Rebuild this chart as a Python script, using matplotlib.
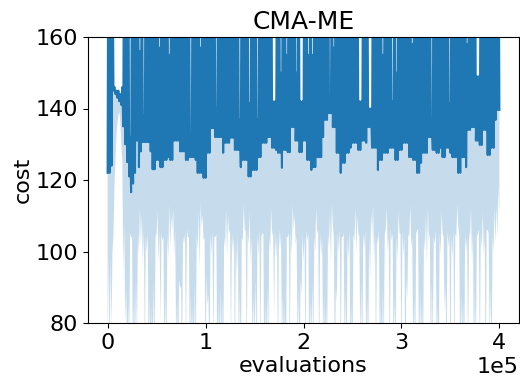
import numpy as np
import matplotlib
matplotlib.use("Agg")
import matplotlib.pyplot as plt

# cost logged every 1000 evaluations; the log alternates between the
# running trough of the mean and the spike that follows it
EVALS = np.arange(0, 400001, 1000)

TROUGH_COST = [
    122, 122, 124, 145, 144, 143, 142, 141, 135, 130,
    125, 121, 116.6, 119, 122, 131, 123.6, 128, 130.6, 130.6,
    130.6, 130.6, 128, 123, 123, 125.6, 125.6, 123.6, 123.6, 125.6,
    125.6, 126.4, 125.6, 125.6, 131, 131, 131, 128, 128, 128,
    125.6, 125.6, 126.4, 126.4, 126.4, 125.6, 122, 122, 122, 120.6,
    120.6, 127.6, 127.6, 134.5, 134.5, 132, 132, 132, 132, 127.6,
    130.4, 130.4, 130.4, 131.8, 131.8, 128.4, 128.4, 128.4, 123.6, 125.6,
    125.6, 125.6, 121, 121, 122.8, 122.8, 122.8, 126.4, 126.4, 130.4,
    130.4, 130.4, 132, 132, 129, 129, 128.4, 127.6, 127.6, 123.4,
    128.4, 128.4, 127.8, 127.8, 134.8, 134.8, 131, 131, 127.8, 127.8,
    131, 131, 125.6, 125.6, 122.8, 123.6, 123.6, 126.4, 126.4, 126.4,
    132, 136.8, 136.8, 138.7, 138.7, 134.8, 134.8, 127.6, 127.6, 122,
    124.8, 124.8, 127.6, 127.6, 129, 130.4, 130.4, 130.4, 128.4, 128.4,
    131, 131, 130.4, 134.8, 134.8, 129, 129, 129, 122.8, 125.6,
    125.6, 127.6, 127.6, 127.6, 129, 129, 129, 125.6, 125.6, 128.4,
    128.4, 130.4, 130.4, 130.4, 126.4, 126.4, 125.6, 125.6, 122, 122,
    124.8, 127.6, 127.6, 127.6, 132, 132, 128.4, 128.4, 127.6, 127.6,
    129, 126.4, 126.4, 129, 129, 127.6, 126.4, 126.4, 126.4, 122,
    122, 126.4, 126.4, 123.6, 134, 134, 134.8, 134.8, 131, 131,
    129.8, 129.8, 134, 134, 127, 127, 129, 129, 136.8, 139.6,
    139.6,
]

PEAK_COST = [
    220, 205, 190, 146, 145, 145, 144, 146, 210, 198,
    215, 132, 204, 225, 196, 210, 156, 200, 138, 212,
    195, 230, 205, 188, 215, 200, 157, 220, 199, 207,
    192, 155, 218, 203, 196, 225, 208, 190, 214, 201,
    209, 197, 133, 216, 204, 193, 221, 157, 206, 198,
    212, 190, 224, 203, 195, 140, 217, 206, 199, 228,
    194, 211, 202, 187, 219, 205, 196, 137, 213, 200,
    222, 191, 141.5, 208, 197, 215, 137, 203, 226, 194,
    210, 199, 218, 205, 142, 142, 193, 214, 150, 207,
    198, 155, 221, 203, 192, 216, 150, 209, 142, 142,
    224, 195, 155, 211, 155, 200, 190, 219, 206, 197,
    213, 202, 227, 142, 196, 157, 210, 199, 221, 193,
    207, 216, 195, 204, 223, 200, 191, 212, 142, 142,
    205, 218, 197, 140, 140, 209, 194, 225, 203, 212,
    155, 199, 208, 217, 192, 142, 205, 150, 220, 196,
    211, 203, 194, 226, 208, 158, 197, 214, 201, 190,
    219, 206, 195, 213, 202, 137, 222, 198, 209, 193,
    216, 204, 191, 227, 141.5, 200, 212, 196, 207, 218,
    194, 205, 215, 158, 199, 223, 192, 210, 149, 149,
    203, 217, 196, 208, 225, 190, 211, 201, 214, 206,
]

# lower edge of the shaded band at the same log points
TROUGH_LOW = [
    70, 65, 78, 105, 125, 136, 139, 130, 95, 80,
    66, 70, 104, 63, 68, 75, 99, 102, 96, 71,
    100, 64, 67, 62, 73, 105, 97, 80, 103, 69,
    65, 98, 101, 106, 99, 74, 61, 90, 68, 102,
    72, 104, 66, 69, 64, 70, 100, 95, 107, 103,
    67, 85, 63, 99, 72, 104, 68, 62, 71, 66,
    101, 98, 105, 74, 100, 65, 93, 70, 61, 103,
    106, 69, 102, 97, 64, 76, 68, 99, 72, 105,
    63, 67, 70, 100, 104, 82, 98, 65, 101, 73,
    66, 62, 104, 69, 99, 106, 102, 71, 64, 88,
    97, 68, 103, 61, 74, 70, 100, 105, 66, 99,
    72, 64, 69, 101, 96, 107, 63, 86, 100, 67,
    104, 71, 65, 98, 62, 68, 103, 99, 105, 74,
    66, 101, 70, 63, 92, 104, 97, 69, 102, 65,
    61, 73, 106, 100, 68, 103, 64, 71, 98, 105,
    67, 99, 62, 87, 104, 101, 70, 66, 106, 63,
    72, 69, 100, 96, 103, 65, 74, 102, 68, 61,
    99, 105, 84, 67, 101, 63, 98, 70, 104, 107,
    66, 72, 62, 100, 69, 103, 97, 64, 71, 105,
    68, 101, 99, 63, 106, 74, 66, 100, 102, 104,
    110,
]

PEAK_LOW = [
    100, 98, 100, 118, 132, 138, 136, 125, 108, 90,
    86, 105, 104, 88, 92, 105, 112, 110, 106, 104,
    105, 87, 85, 91, 104, 111, 106, 105, 104, 89,
    105, 113, 110, 112, 106, 86, 92, 90, 104, 105,
    106, 104, 88, 85, 91, 105, 111, 113, 110, 104,
    93, 88, 105, 106, 104, 105, 86, 90, 87, 104,
    112, 110, 106, 105, 104, 103, 105, 89, 104, 113,
    106, 105, 111, 104, 88, 92, 105, 106, 104, 105,
    86, 90, 104, 112, 106, 105, 104, 106, 105, 88,
    85, 104, 105, 106, 113, 110, 104, 89, 92, 105,
    104, 106, 105, 87, 91, 104, 112, 106, 105, 104,
    88, 86, 105, 111, 113, 104, 90, 105, 106, 104,
    105, 89, 104, 106, 85, 105, 112, 110, 104, 91,
    105, 106, 87, 104, 111, 113, 105, 104, 106, 86,
    90, 105, 112, 104, 106, 105, 88, 104, 111, 105,
    106, 104, 92, 105, 113, 104, 87, 105, 106, 89,
    86, 104, 110, 112, 105, 91, 104, 106, 85, 105,
    111, 104, 90, 106, 105, 104, 106, 105, 113, 104,
    88, 86, 105, 104, 106, 112, 105, 89, 104, 106,
    105, 111, 104, 106, 105, 90, 104, 112, 113, 118,
]


def interleave(troughs, peaks):
    out = np.empty(len(troughs) + len(peaks))
    out[0::2] = troughs
    out[1::2] = peaks
    return out


def main():
    plt.rcParams["font.size"] = 16
    cost = interleave(TROUGH_COST, PEAK_COST)
    low = interleave(TROUGH_LOW, PEAK_LOW)

    fig = plt.figure(figsize=(5.2, 3.78), dpi=100)
    ax = fig.add_axes([88 / 520, 55 / 378, 431 / 520, 286 / 378])

    ax.fill_between(EVALS, low, cost, color="C0", alpha=0.25, linewidth=0)
    ax.plot(EVALS, cost, color="C0", lw=1.5)

    ax.set_ylim(80, 160)
    ax.set_yticks([80, 100, 120, 140, 160])
    ax.ticklabel_format(axis="x", style="sci", scilimits=(0, 0))
    ax.set_xlabel("evaluations", labelpad=2)
    ax.set_ylabel("cost", labelpad=2)
    ax.set_title("CMA-ME", fontsize=18)

    fig.savefig("out.png", dpi=100)
    plt.close(fig)


if __name__ == "__main__":
    main()
